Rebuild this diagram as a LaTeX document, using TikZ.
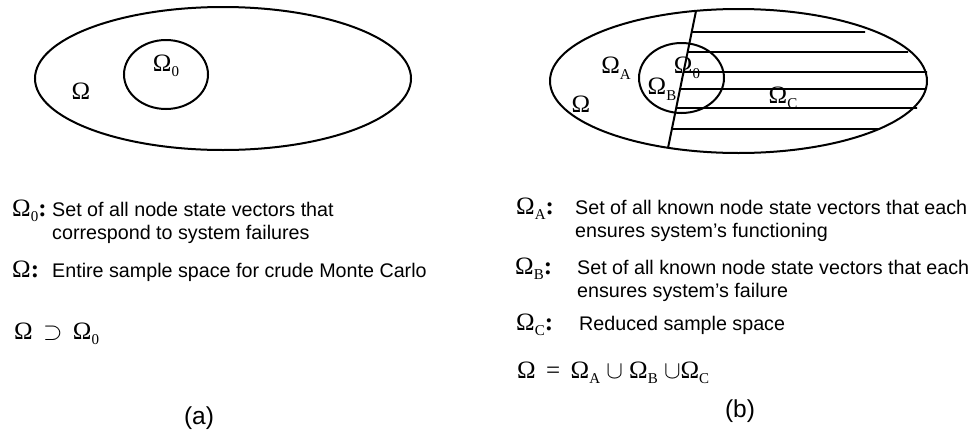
\documentclass[tikz,border=0pt]{standalone}
\usepackage{fontspec}
\setmainfont{Liberation Serif}
\newfontfamily\arialf{Liberation Sans}
\usetikzlibrary{calc}
\newcommand{\Sb}[1]{\raisebox{-0.22em}{\fontsize{15}{15}\selectfont #1}}
\newcommand{\Om}[1]{Ω\Sb{#1}}
\tikzset{
  shape line/.style={line width=2pt},
  hatch/.style={line width=1.8pt},
  glab/.style={font=\fontsize{25}{27}\selectfont, inner sep=0pt},
  sym/.style={font=\fontsize{25}{27}\selectfont, inner sep=0pt, anchor=base west},
  desc/.style={font=\arialf\fontsize{19.7}{22}\selectfont, inner sep=0pt, anchor=base west},
  captext/.style={font=\arialf\fontsize{24.5}{27}\selectfont, inner sep=0pt, anchor=base},
}
\begin{document}
\begin{tikzpicture}[x=1pt,y=-1pt]
\useasboundingbox (0,0) rectangle (977,434);
% ---------- (a) ----------
\draw[shape line] (223,78.5) ellipse [x radius=188, y radius=71.5];
\draw[shape line] (166,74.5) ellipse [x radius=42, y radius=34.5];
\node[glab] (aOm) at (81,91) {Ω};
\node[glab] (aOm0) at (166,66) {\Om{0}};
% ---------- (b) ----------
\draw[shape line] (738.5,81) ellipse [x radius=188.5, y radius=72];
\draw[shape line] (681.5,78) ellipse [x radius=42.5, y radius=35];
\coordinate (dt) at (696,11);
\coordinate (db) at (668,148);
\draw[shape line] (dt) -- (db);
\foreach \f/\y/\xe in {0.153/32/865, 0.299/52/908, 0.445/72/927, 0.569/89/925, 0.708/108/917, 0.861/129/880}{
  \coordinate (hs) at ($(dt)!\f!(db)$);
  \coordinate (he) at (\xe,\y);
  \draw[hatch] (hs) -- (he);
}
\node[glab] (bOmA) at (616,68) {\Om{A}};
\node[glab] (bOm0) at (687,68) {\Om{0}};
\node[glab] (bOmB) at (662,89) {\Om{B}};
\node[glab] (bOmC) at (783,98) {\Om{C}};
\node[glab] (bOm) at (581,104) {Ω};
% ---------- legend (a) ----------
\node[sym] (l0s) at (12,216) {\Om{0}\textbf{:}};
\node[desc] (l0a) at (52,216) {Set of all node state vectors that};
\node[desc] (l0b) at (52,239) {correspond to system failures};
\node[sym] (l1s) at (12,277) {Ω\textbf{:}};
\node[desc] (l1a) at (52,277) {Entire sample space for crude Monte Carlo};
\node[sym] (lrel) at (14,339) {Ω\, $\supset$ \,\Om{0}};
\node[captext] (capa) at (199,424) {(a)};
% ---------- legend (b) ----------
\node[sym] (rAs) at (516,214) {\Om{A}\textbf{:}};
\node[desc] (rAa) at (575,214) {Set of all known node state vectors that each};
\node[desc] (rAb) at (575,237) {ensures system’s functioning};
\node[sym] (rBs) at (515,274) {\Om{B}\textbf{:}};
\node[desc] (rBa) at (577,274) {Set of all known node state vectors that each};
\node[desc] (rBb) at (577,297) {ensures system’s failure};
\node[sym] (rCs) at (516,330) {\Om{C}\textbf{:}};
\node[desc] (rCa) at (579,330) {Reduced sample space};
\node[sym] (rrel) at (517,378) {Ω\, = \,\Om{A} $\cup$ \Om{B} $\cup$\Om{C}};
\node[captext] (capb) at (740,417) {(b)};
\end{tikzpicture}
\end{document}
